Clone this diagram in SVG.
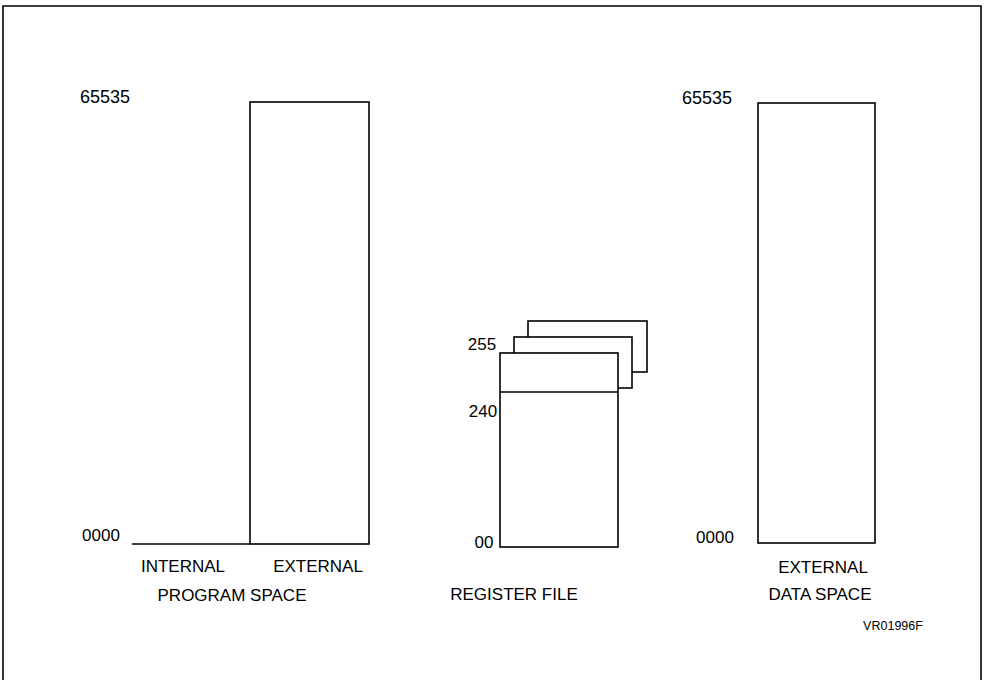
<svg xmlns="http://www.w3.org/2000/svg" width="985" height="680" viewBox="0 0 985 680">
<style>
.ln{fill:none;stroke:#000;stroke-width:1.6}
.bx{fill:#fff;stroke:#000;stroke-width:1.6}
text{font-family:"Liberation Sans",Arial,sans-serif;font-size:17px;fill:#000}
.big{font-size:18px}
.sm{font-size:12.5px}
</style>
<rect width="985" height="680" fill="#fff"/>
<path class="ln" d="M3,690 V6 H981 V690" stroke-width="2"/>
<g id="program-space">
<text class="big" x="105" y="103" text-anchor="middle">65535</text>
<text x="101" y="541" text-anchor="middle">0000</text>
<line class="ln" x1="132" y1="544" x2="250" y2="544"/>
<rect id="program-external" class="bx" x="250" y="102" width="119" height="442"/>
<text x="183" y="572" text-anchor="middle">INTERNAL</text>
<text x="318" y="572" text-anchor="middle">EXTERNAL</text>
<text x="232" y="601" text-anchor="middle">PROGRAM SPACE</text>
</g>
<g id="register-file">
<rect class="bx" x="528" y="321" width="119" height="51"/>
<rect class="bx" x="514" y="337" width="118" height="51"/>
<rect class="bx" x="500" y="353" width="118" height="194"/>
<line class="ln" x1="500" y1="392" x2="618" y2="392"/>
<text x="482" y="350" text-anchor="middle">255</text>
<text x="483" y="417" text-anchor="middle">240</text>
<text x="484" y="548" text-anchor="middle">00</text>
<text x="514" y="600" text-anchor="middle">REGISTER FILE</text>
</g>
<g id="data-space">
<text class="big" x="707" y="104" text-anchor="middle">65535</text>
<text x="715" y="543" text-anchor="middle">0000</text>
<rect class="bx" x="758" y="103" width="117" height="440"/>
<text x="823" y="573" text-anchor="middle">EXTERNAL</text>
<text x="820" y="600" text-anchor="middle">DATA SPACE</text>
</g>
<text class="sm" x="893" y="630" text-anchor="middle">VR01996F</text>
<g id="connectors"></g>
</svg>
